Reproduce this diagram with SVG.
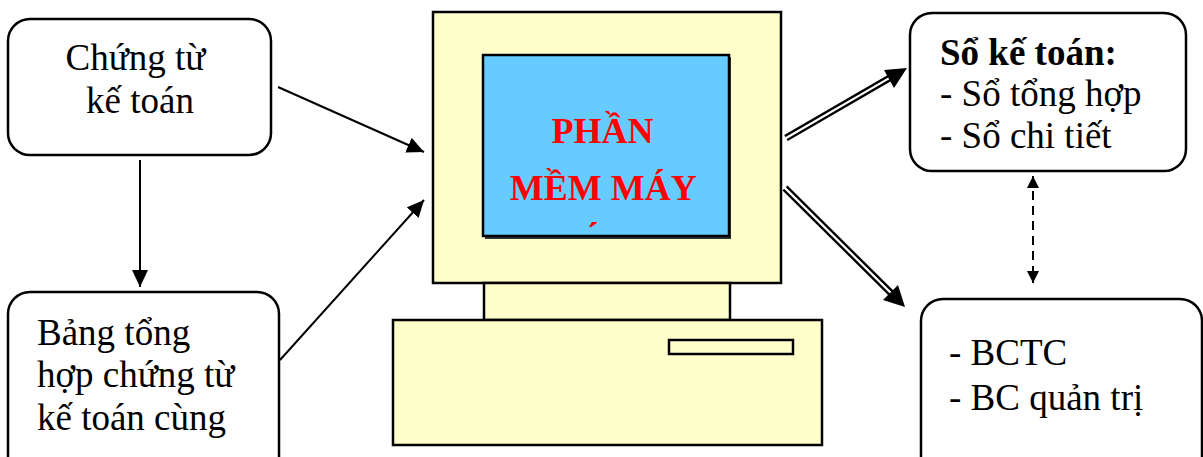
<svg xmlns="http://www.w3.org/2000/svg" width="1203" height="457" viewBox="0 0 1203 457">
  <style>
    .box { fill: #ffffff; stroke: #000000; stroke-width: 2.5; }
    .txt { font-family: "Liberation Serif", "Times New Roman", serif; font-size: 37px; fill: #000000; }
    .body { fill: #ffffcc; stroke: #000000; stroke-width: 2.5; }
    .scr { font-family: "Liberation Serif", "Times New Roman", serif; font-size: 36px; font-weight: bold; fill: #ff0000; }
    .line { stroke: #000000; stroke-width: 2; fill: none; }
    .dbl-outer { stroke: #000000; stroke-width: 7; fill: none; }
    .dbl-inner { stroke: #ffffff; stroke-width: 2.2; fill: none; }
  </style>
  <defs>
    <marker id="head" viewBox="0 0 10 10" refX="10" refY="5" markerWidth="8.5" markerHeight="8" markerUnits="strokeWidth" orient="auto" preserveAspectRatio="none">
      <path d="M0,0 L10,5 L0,10 Z" fill="#000000"/>
    </marker>
    <marker id="headDash" viewBox="0 0 10 10" refX="10" refY="5" markerWidth="6" markerHeight="6" markerUnits="strokeWidth" orient="auto-start-reverse" preserveAspectRatio="none">
      <path d="M0,0 L10,5 L0,10 Z" fill="#000000"/>
    </marker>
    <clipPath id="screenText">
      <rect x="486" y="58" width="243" height="169"/>
    </clipPath>
  </defs>

  <rect width="1203" height="457" fill="#ffffff"/>

  <!-- source documents -->
  <g id="chung-tu">
    <rect class="box" x="8" y="19" width="263" height="136" rx="22"/>
    <text class="txt" text-anchor="middle">
      <tspan x="140" y="70">Chứng từ</tspan>
      <tspan x="140" y="113">kế toán</tspan>
    </text>
  </g>

  <!-- summary of source documents -->
  <g id="bang-tong-hop">
    <rect class="box" x="8" y="292" width="271" height="190" rx="22"/>
    <text class="txt">
      <tspan x="37" y="345">Bảng tổng</tspan>
      <tspan x="37" y="387">hợp chứng từ</tspan>
      <tspan x="37" y="430">kế toán cùng</tspan>
    </text>
  </g>

  <!-- computer -->
  <g id="may-tinh">
    <rect class="body" x="433" y="12" width="348" height="271"/>
    <rect class="body" x="484" y="283" width="246" height="37"/>
    <rect class="body" x="393" y="320" width="429" height="125"/>
    <rect class="body" x="669" y="340" width="124" height="14"/>
    <rect x="485" y="57" width="246" height="182" fill="#333333"/>
    <rect x="483" y="55" width="246" height="181" fill="#66ccff" stroke="#000000" stroke-width="2.5"/>
    <text class="scr" text-anchor="middle" clip-path="url(#screenText)">
      <tspan x="607" y="143">PHẦN</tspan>
      <tspan x="607" y="200">MỀM MÁY</tspan>
      <tspan x="607" y="253">TÍNH</tspan>
    </text>
  </g>

  <!-- ledgers -->
  <g id="so-ke-toan">
    <rect class="box" x="910" y="13" width="276" height="158" rx="22"/>
    <text class="txt">
      <tspan x="940" y="65" font-weight="bold">Sổ kế toán:</tspan>
      <tspan x="940" y="106">- Sổ tổng hợp</tspan>
      <tspan x="940" y="148">- Sổ chi tiết</tspan>
    </text>
  </g>

  <!-- reports -->
  <g id="bao-cao">
    <rect class="box" x="921" y="299" width="281" height="190" rx="22"/>
    <text class="txt">
      <tspan x="949" y="365">- BCTC</tspan>
      <tspan x="949" y="410">- BC quản trị</tspan>
    </text>
  </g>

  <!-- connectors -->
  <g id="connectors">
    <line class="line" x1="140" y1="160" x2="140" y2="287" marker-end="url(#head)"/>
    <line class="line" x1="278" y1="87" x2="424" y2="152" marker-end="url(#head)"/>
    <line class="line" x1="280" y1="360" x2="424" y2="200" marker-end="url(#head)"/>

    <!-- hollow double arrows -->
    <line class="dbl-outer" x1="786" y1="138" x2="893" y2="76"/>
    <line class="dbl-inner" x1="784" y1="139.2" x2="894" y2="75.4"/>
    <path d="M907,68 L884,70 L894,88 Z" fill="#000000"/>

    <line class="dbl-outer" x1="785" y1="188" x2="894" y2="296"/>
    <line class="dbl-inner" x1="783.6" y1="186.6" x2="895" y2="297"/>
    <path d="M905,307 L883,300 L898,285 Z" fill="#000000"/>

    <line class="line" x1="1033" y1="176" x2="1033" y2="283" stroke-width="2.5" stroke-dasharray="9,6" marker-start="url(#headDash)" marker-end="url(#headDash)"/>
  </g>
</svg>
